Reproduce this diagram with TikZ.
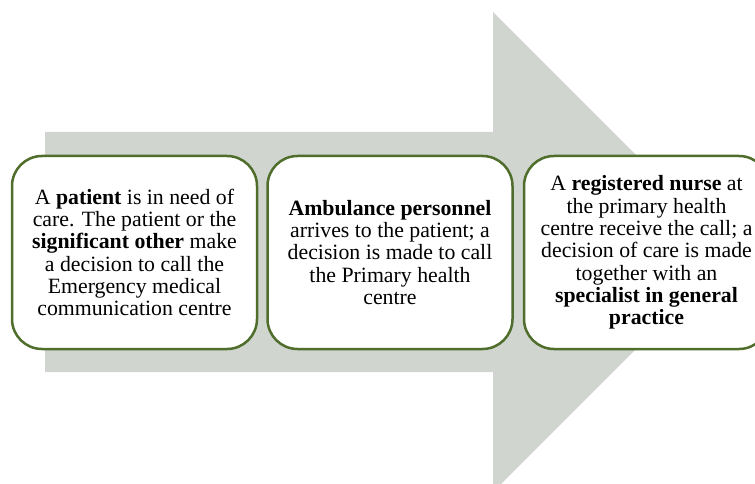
\documentclass[tikz,border=0pt]{standalone}
\usepackage{fontspec}
\setmainfont{Liberation Serif}
\definecolor{arrowgray}{HTML}{D0D6CF}
\definecolor{boxgreen}{HTML}{4F6D2B}
\tikzset{
  stagebox/.style={draw=boxgreen, line width=2.5pt, fill=white,
    rounded corners=30pt, minimum width=245pt, minimum height=193pt,
    inner sep=0pt, align=center, text=black,
    font=\fontsize{21.8}{22.3}\selectfont},
}
\begin{document}
\begin{tikzpicture}[x=1pt, y=-1pt]
  \useasboundingbox (0,0) rectangle (755,484);
  \begin{scope}
    \clip (0,0) rectangle (755,484);
    % background block arrow
    \fill[arrowgray] (45,132) -- (493,132) -- (493,12) -- (733,252)
      -- (493,492) -- (493,372) -- (45,372) -- cycle;
    % the three stages
    \node[stagebox] (b1) at (134.5,252.5)
      {A \textbf{patient} is in need of\\
       care. The patient or the\\
       \textbf{significant other} make\\
       a decision to call the\\
       Emergency medical\\
       communication centre};
    \node[stagebox] (b2) at (390,252.5)
      {\textbf{Ambulance personnel}\\
       arrives to the patient; a\\
       decision is made to call\\
       the Primary health\\
       centre};
    \node[stagebox] (b3) at (646.5,252.5)
      {A \textbf{registered nurse} at\\
       the primary health\\
       centre receive the call; a\\
       decision of care is made\\
       together with an\\
       \textbf{specialist in general}\\
       \textbf{practice}};
  \end{scope}
\end{tikzpicture}
\end{document}
